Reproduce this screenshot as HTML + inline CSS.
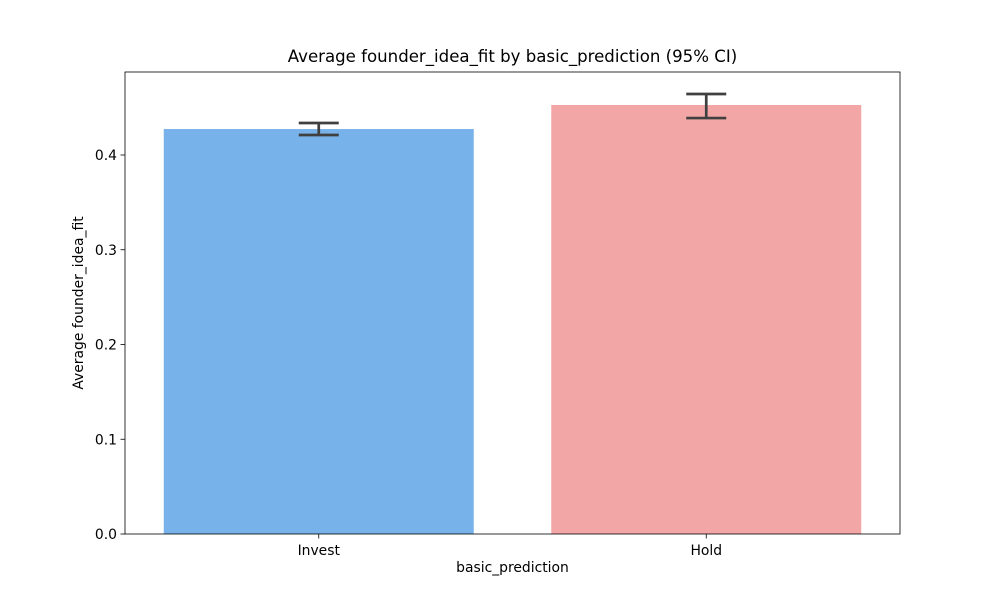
<!DOCTYPE html>
<html><head><meta charset="utf-8"><style>
body{margin:0;background:#fff;}
svg{display:block;font-family:"DejaVu Sans","Liberation Sans",sans-serif;}
</style></head><body>
<svg id="chart" width="1000" height="600"></svg>
<script>
const categories = ["Invest", "Hold"];
const means = [0.4274, 0.4528];
const ciLow = [0.4211, 0.4390];
const ciHigh = [0.4338, 0.4644];
const yTicks = [0.0, 0.1, 0.2, 0.3, 0.4];
const yTickLabels = ["0.0", "0.1", "0.2", "0.3", "0.4"];
const colors = ["#78b2ea", "#f2a6a6"];

const NS = "http://www.w3.org/2000/svg";
const svg = document.getElementById("chart");
const L = 125, R = 900, T = 72, B = 534;
const yMax = 0.4876;
const y = v => B - v / yMax * (B - T);
const x = i => L + (i + 0.5) / 2 * (R - L);
const unit = (R - L) / 2;
function mk(tag, attrs, parent) {
  const e = document.createElementNS(NS, tag);
  for (const k in attrs) e.setAttribute(k, attrs[k]);
  (parent || svg).appendChild(e);
  return e;
}
categories.forEach((c, i) => {
  const r = mk("rect", {x: x(i) - 0.4 * unit, y: y(means[i]), width: 0.8 * unit, height: B - y(means[i]), fill: colors[i]});
  
  
  const g = mk("g", {stroke: "#404040", "stroke-width": 2.7, fill: "none"});
  
  
  mk("line", {x1: x(i), x2: x(i), y1: y(ciLow[i]), y2: y(ciHigh[i])}, g);
  mk("line", {x1: x(i) - 20, x2: x(i) + 20, y1: y(ciLow[i]), y2: y(ciLow[i])}, g);
  mk("line", {x1: x(i) - 20, x2: x(i) + 20, y1: y(ciHigh[i]), y2: y(ciHigh[i])}, g);
  mk("line", {x1: x(i), x2: x(i), y1: B, y2: B + 4.5, stroke: "#000", "stroke-width": 0.8});
  const t = mk("text", {x: x(i), y: B + 21, "text-anchor": "middle", "font-size": 13.9});
  t.textContent = c;
  
  
});
yTicks.forEach((v, i) => {
  mk("line", {x1: L - 4.5, x2: L, y1: y(v), y2: y(v), stroke: "#000", "stroke-width": 0.8});
  const t = mk("text", {x: L - 8, y: y(v) + 5, "text-anchor": "end", "font-size": 13.9});
  t.textContent = yTickLabels[i];
  
  
});
const frame = mk("rect", {x: L, y: T, width: R - L, height: B - T, fill: "none", stroke: "#000", "stroke-width": 0.8});


</script>
<div style="position:absolute;left:0;top:0;width:1000px;height:600px;pointer-events:none;font-family:'DejaVu Sans','Liberation Sans',sans-serif;">
<div style="position:absolute;left:0;width:1025px;top:47px;text-align:center;font-size:16.6px;">Average founder_idea_fit by basic_prediction (95% CI)</div>
<div style="position:absolute;left:0;width:1025px;top:560px;text-align:center;font-size:13.9px;">basic_prediction</div>
<div style="position:absolute;left:79px;top:303px;font-size:13.9px;transform:translate(-50%,-50%) rotate(-90deg);white-space:nowrap;">Average founder_idea_fit</div>
</div>
</body></html>
